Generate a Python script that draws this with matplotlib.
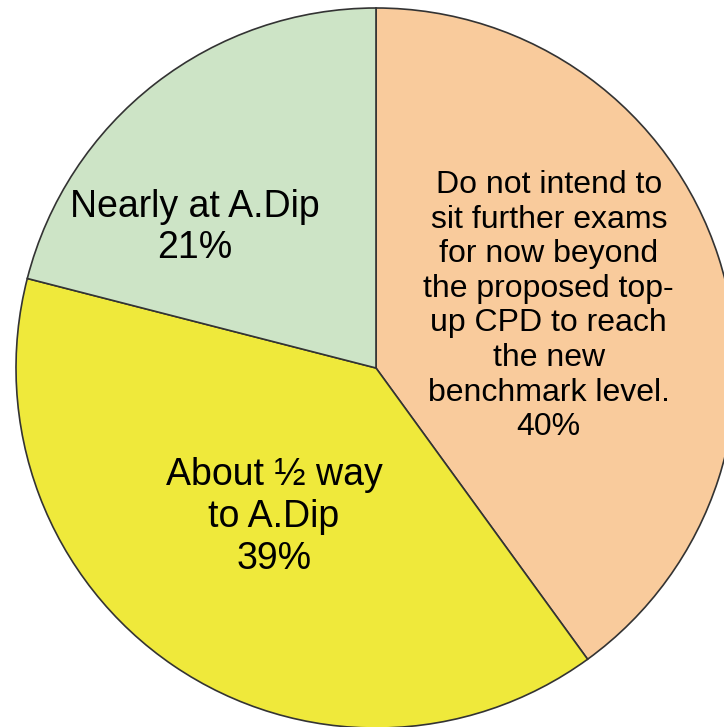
import matplotlib.pyplot as plt

plt.rcParams['font.family'] = ['Liberation Sans', 'DejaVu Sans']

labels = ['Do not intend to\nsit further exams\nfor now beyond\nthe proposed top-\nup CPD to reach\nthe new\nbenchmark level.',
          'About \u00bd way\nto A.Dip',
          'Nearly at A.Dip']
values = [40, 39, 21]
colors = ['#F9CB9C', '#EFE93B', '#CDE4C6']
text_pos = [(0.48, 0.172), (-0.283, -0.414), (-0.504, 0.39)]
text_size = [23, 27, 27]

fig = plt.figure(figsize=(7.24, 7.27), dpi=100)
ax = fig.add_axes([16 / 724, -1 / 727, 720 / 724, 720 / 727])
ax.pie(values, colors=colors, startangle=90, counterclock=False, radius=1,
       wedgeprops=dict(edgecolor='#333333', linewidth=1.2))
ax.set_xlim(-1, 1)
ax.set_ylim(-1, 1)
ax.set_aspect('equal')
ax.axis('off')

for lab, v, (x, y), fs in zip(labels, values, text_pos, text_size):
    ax.text(x, y, f'{lab}\n{v}%', ha='center', va='center', fontsize=fs,
            linespacing=1.2, clip_on=False)

fig.savefig('out.png', dpi=100)
